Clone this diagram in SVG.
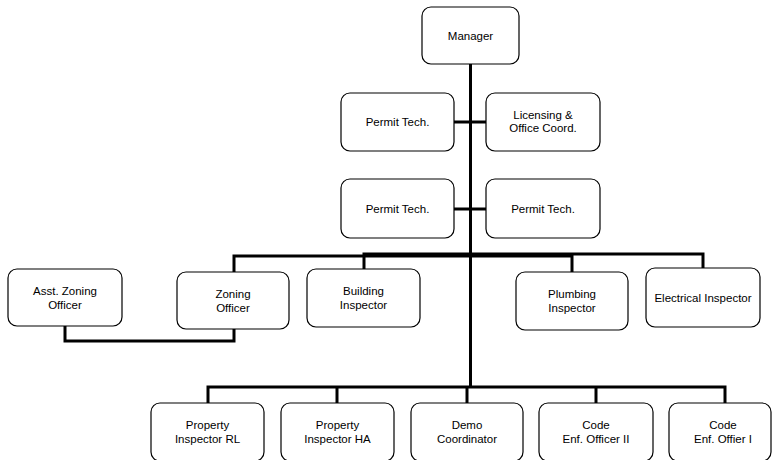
<svg xmlns="http://www.w3.org/2000/svg" width="772" height="460" viewBox="0 0 772 460">
  <style>
    .box { fill: #ffffff; stroke: #000000; stroke-width: 1.2; }
    .lbl { font-family: "Liberation Sans", Arial, sans-serif; font-size: 11.5px; fill: #000000; text-anchor: middle; }
    .wire { fill: none; stroke: #000000; stroke-width: 3; }
  </style>
  <rect width="772" height="460" fill="#ffffff"/>

  <!-- connectors -->
  <g id="connectors" class="wire">
    <path d="M470.5,64 V387"/>
    <path d="M454,122 H486"/>
    <path d="M454,209 H486"/>
    <path d="M234,272 V256 H572 V272"/>
    <path d="M364,269 V254 H703 V268"/>
    <path d="M65,326 V341 H234 V329"/>
    <path d="M208,403 V387 H725 V403"/>
    <path d="M337,387 V403"/>
    <path d="M467,387 V403"/>
    <path d="M596,387 V403"/>
  </g>

  <g id="manager">
    <rect class="box" x="422" y="7" width="97" height="57" rx="9"/>
    <text class="lbl" x="470.5" y="40">Manager</text>
  </g>

  <g id="permit-tech-1">
    <rect class="box" x="341" y="93" width="113" height="58" rx="9"/>
    <text class="lbl" x="397.5" y="126">Permit Tech.</text>
  </g>
  <g id="licensing">
    <rect class="box" x="486" y="93" width="114" height="58" rx="9"/>
    <text class="lbl" x="543" y="119">Licensing &amp;</text>
    <text class="lbl" x="543" y="132">Office Coord.</text>
  </g>

  <g id="permit-tech-2">
    <rect class="box" x="341" y="179" width="113" height="59" rx="9"/>
    <text class="lbl" x="397.5" y="213">Permit Tech.</text>
  </g>
  <g id="permit-tech-3">
    <rect class="box" x="486" y="179" width="114" height="59" rx="9"/>
    <text class="lbl" x="543" y="213">Permit Tech.</text>
  </g>

  <g id="asst-zoning">
    <rect class="box" x="8" y="269" width="114" height="57" rx="9"/>
    <text class="lbl" x="65" y="295">Asst. Zoning</text>
    <text class="lbl" x="65" y="309">Officer</text>
  </g>
  <g id="zoning">
    <rect class="box" x="177" y="272" width="112" height="57" rx="9"/>
    <text class="lbl" x="233" y="298">Zoning</text>
    <text class="lbl" x="233" y="312">Officer</text>
  </g>
  <g id="building">
    <rect class="box" x="307" y="269" width="113" height="58" rx="9"/>
    <text class="lbl" x="363.5" y="295">Building</text>
    <text class="lbl" x="363.5" y="309">Inspector</text>
  </g>
  <g id="plumbing">
    <rect class="box" x="516" y="272" width="112" height="58" rx="9"/>
    <text class="lbl" x="572" y="298">Plumbing</text>
    <text class="lbl" x="572" y="312">Inspector</text>
  </g>
  <g id="electrical">
    <rect class="box" x="646" y="268" width="114" height="59" rx="9"/>
    <text class="lbl" x="703" y="302">Electrical Inspector</text>
  </g>

  <g id="property-rl">
    <rect class="box" x="151" y="403" width="113" height="58" rx="9"/>
    <text class="lbl" x="207.5" y="429">Property</text>
    <text class="lbl" x="207.5" y="443">Inspector RL</text>
  </g>
  <g id="property-ha">
    <rect class="box" x="281" y="403" width="113" height="58" rx="9"/>
    <text class="lbl" x="337.5" y="429">Property</text>
    <text class="lbl" x="337.5" y="443">Inspector HA</text>
  </g>
  <g id="demo">
    <rect class="box" x="411" y="403" width="112" height="58" rx="9"/>
    <text class="lbl" x="467" y="429">Demo</text>
    <text class="lbl" x="467" y="443">Coordinator</text>
  </g>
  <g id="code-2">
    <rect class="box" x="539" y="403" width="114" height="58" rx="9"/>
    <text class="lbl" x="596" y="429">Code</text>
    <text class="lbl" x="596" y="443">Enf. Officer II</text>
  </g>
  <g id="code-1">
    <rect class="box" x="669" y="403" width="102" height="58" rx="9"/>
    <text class="lbl" x="723" y="429">Code</text>
    <text class="lbl" x="723" y="443">Enf. Offier I</text>
  </g>
</svg>
